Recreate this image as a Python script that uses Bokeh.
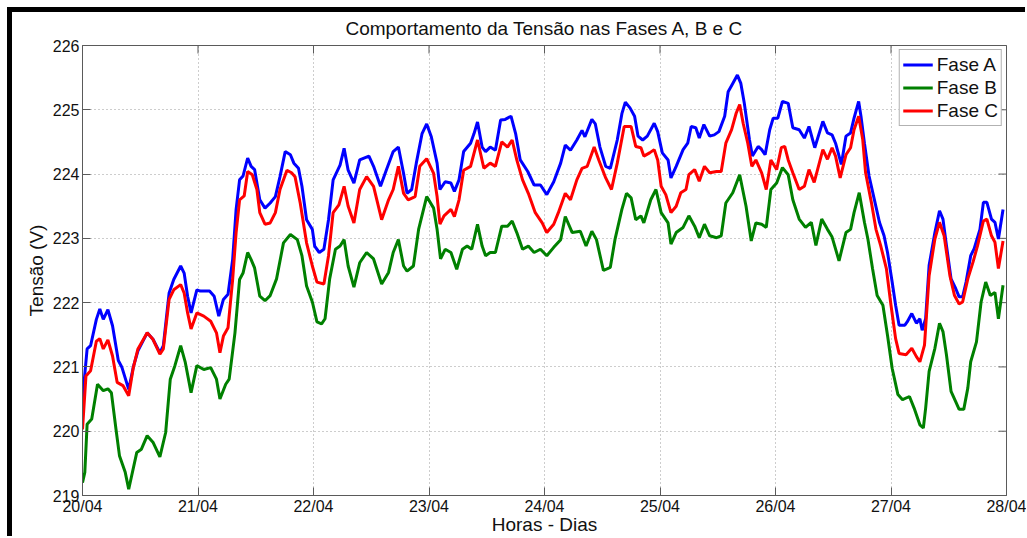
import math
from bokeh.plotting import figure
from bokeh.models import FixedTicker, Range1d, Legend, LegendItem
from bokeh.embed import file_html
from bokeh.resources import INLINE

# ---------------- data ----------------
dias = ["20/04", "21/04", "22/04", "23/04", "24/04", "25/04", "26/04", "27/04", "28/04"]
dias_pos = [0, 1, 2, 3, 4, 5, 6, 7, 8]
tensoes = [219, 220, 221, 222, 223, 224, 225, 226]

# (dia desde 20/04, tensão em V)
fase_a = [
    (0.00, 220.50), (0.04, 221.28), (0.07, 221.33), (0.12, 221.74), (0.15, 221.90), (0.18, 221.74),
    (0.22, 221.89), (0.26, 221.64), (0.31, 221.10), (0.34, 221.00), (0.40, 220.65), (0.44, 221.00),
    (0.48, 221.25), (0.56, 221.53), (0.61, 221.43), (0.67, 221.22), (0.70, 221.33), (0.75, 222.15),
    (0.79, 222.36), (0.85, 222.57), (0.88, 222.46), (0.91, 222.10), (0.94, 221.84), (0.99, 222.20),
    (1.02, 222.18), (1.10, 222.18), (1.14, 222.10), (1.18, 221.79), (1.22, 222.05), (1.26, 222.13),
    (1.30, 222.67), (1.33, 223.45), (1.36, 223.91), (1.39, 223.97), (1.43, 224.25), (1.46, 224.12),
    (1.49, 224.07), (1.535, 223.60), (1.58, 223.47), (1.625, 223.55), (1.67, 223.65), (1.71, 223.96),
    (1.755, 224.35), (1.80, 224.30), (1.83, 224.17), (1.87, 224.09), (1.90, 223.81), (1.94, 223.29),
    (1.99, 223.14), (2.01, 222.88), (2.05, 222.78), (2.09, 222.83), (2.13, 223.29), (2.17, 223.91),
    (2.23, 224.14), (2.265, 224.40), (2.30, 224.06), (2.35, 223.86), (2.40, 224.22), (2.48, 224.28),
    (2.52, 224.12), (2.58, 223.81), (2.63, 224.06), (2.69, 224.35), (2.735, 224.42), (2.78, 224.01),
    (2.81, 223.70), (2.85, 223.76), (2.89, 224.17), (2.94, 224.63), (2.98, 224.78), (3.02, 224.58),
    (3.07, 224.17), (3.095, 223.76), (3.14, 223.88), (3.19, 223.86), (3.22, 223.73), (3.26, 223.91),
    (3.30, 224.35), (3.36, 224.48), (3.39, 224.63), (3.42, 224.81), (3.46, 224.42), (3.49, 224.35),
    (3.53, 224.42), (3.575, 224.37), (3.62, 224.84), (3.66, 224.85), (3.71, 224.90), (3.75, 224.63),
    (3.79, 224.22), (3.855, 224.04), (3.91, 223.83), (3.965, 223.83), (4.02, 223.68), (4.08, 223.88),
    (4.14, 224.17), (4.18, 224.45), (4.225, 224.37), (4.28, 224.53), (4.325, 224.68), (4.35, 224.58),
    (4.41, 224.85), (4.44, 224.78), (4.48, 224.42), (4.53, 224.12), (4.57, 224.09), (4.63, 224.53),
    (4.67, 224.94), (4.70, 225.12), (4.74, 225.03), (4.78, 224.90), (4.81, 224.59), (4.85, 224.53),
    (4.89, 224.59), (4.95, 224.79), (4.98, 224.66), (5.02, 224.33), (5.07, 224.22), (5.095, 223.94),
    (5.14, 224.12), (5.20, 224.38), (5.24, 224.48), (5.27, 224.74), (5.31, 224.72), (5.34, 224.56),
    (5.38, 224.77), (5.43, 224.59), (5.47, 224.61), (5.51, 224.66), (5.56, 224.90), (5.59, 225.28),
    (5.63, 225.41), (5.67, 225.54), (5.70, 225.41), (5.73, 225.10), (5.775, 224.53), (5.80, 224.28),
    (5.85, 224.43), (5.88, 224.38), (5.91, 224.30), (5.95, 224.69), (5.98, 224.87), (6.02, 224.87),
    (6.06, 225.13), (6.11, 225.10), (6.15, 224.72), (6.205, 224.69), (6.25, 224.56), (6.29, 224.74),
    (6.34, 224.41), (6.41, 224.82), (6.45, 224.64), (6.49, 224.61), (6.52, 224.48), (6.57, 224.15),
    (6.61, 224.59), (6.65, 224.64), (6.68, 224.87), (6.72, 225.13), (6.74, 224.90), (6.77, 224.48),
    (6.81, 223.97), (6.855, 223.61), (6.90, 223.25), (6.94, 223.04), (6.97, 222.78), (7.01, 222.32),
    (7.04, 221.96), (7.07, 221.65), (7.12, 221.65), (7.14, 221.70), (7.18, 221.83), (7.22, 221.68),
    (7.25, 221.75), (7.27, 221.57), (7.30, 221.75), (7.33, 222.58), (7.38, 223.09), (7.42, 223.43),
    (7.45, 223.30), (7.48, 222.89), (7.52, 222.37), (7.56, 222.22), (7.59, 222.09), (7.62, 222.09),
    (7.65, 222.32), (7.69, 222.73), (7.72, 222.84), (7.77, 223.14), (7.80, 223.56), (7.83, 223.56),
    (7.87, 223.30), (7.90, 223.25), (7.93, 222.99), (7.97, 223.45),
]

fase_b = [
    (0.00, 219.20), (0.02, 219.36), (0.04, 220.11), (0.08, 220.19), (0.13, 220.73), (0.18, 220.63),
    (0.22, 220.66), (0.25, 220.60), (0.29, 220.03), (0.32, 219.62), (0.37, 219.36), (0.40, 219.10),
    (0.42, 219.26), (0.47, 219.67), (0.51, 219.72), (0.56, 219.93), (0.61, 219.83), (0.67, 219.60),
    (0.72, 219.98), (0.76, 220.81), (0.80, 221.02), (0.85, 221.33), (0.89, 221.07), (0.94, 220.60),
    (0.99, 221.02), (1.05, 220.96), (1.11, 220.99), (1.16, 220.81), (1.19, 220.50), (1.24, 220.73),
    (1.27, 220.81), (1.32, 221.53), (1.36, 222.36), (1.39, 222.46), (1.43, 222.78), (1.46, 222.67),
    (1.49, 222.54), (1.535, 222.10), (1.58, 222.03), (1.625, 222.11), (1.68, 222.37), (1.74, 222.93),
    (1.80, 223.06), (1.86, 222.98), (1.90, 222.73), (1.94, 222.26), (1.99, 222.01), (2.03, 221.70),
    (2.07, 221.67), (2.10, 221.75), (2.14, 222.37), (2.19, 222.83), (2.23, 222.88), (2.265, 222.98),
    (2.30, 222.57), (2.35, 222.24), (2.40, 222.62), (2.46, 222.78), (2.52, 222.68), (2.59, 222.29),
    (2.65, 222.47), (2.69, 222.78), (2.735, 222.98), (2.78, 222.57), (2.81, 222.49), (2.865, 222.57),
    (2.91, 223.14), (2.98, 223.65), (3.04, 223.47), (3.07, 223.14), (3.10, 222.68), (3.14, 222.83),
    (3.19, 222.78), (3.24, 222.52), (3.29, 222.83), (3.33, 222.88), (3.37, 222.83), (3.42, 223.22),
    (3.46, 222.88), (3.49, 222.73), (3.53, 222.78), (3.575, 222.78), (3.63, 223.19), (3.68, 223.19),
    (3.72, 223.27), (3.76, 223.09), (3.81, 222.83), (3.86, 222.88), (3.91, 222.78), (3.965, 222.83),
    (4.02, 222.73), (4.08, 222.86), (4.14, 222.98), (4.18, 223.34), (4.24, 223.09), (4.31, 223.11),
    (4.36, 222.88), (4.41, 223.11), (4.45, 222.98), (4.51, 222.50), (4.57, 222.55), (4.61, 222.98),
    (4.67, 223.45), (4.71, 223.70), (4.75, 223.63), (4.79, 223.29), (4.835, 223.35), (4.86, 223.24),
    (4.92, 223.60), (4.965, 223.76), (5.01, 223.40), (5.07, 223.24), (5.095, 222.91), (5.14, 223.09),
    (5.20, 223.17), (5.25, 223.35), (5.30, 223.19), (5.34, 223.01), (5.385, 223.22), (5.43, 223.04),
    (5.49, 223.01), (5.53, 223.04), (5.57, 223.55), (5.63, 223.71), (5.69, 223.99), (5.745, 223.50),
    (5.79, 222.96), (5.83, 223.24), (5.88, 223.22), (5.92, 223.17), (5.96, 223.76), (6.01, 223.86),
    (6.06, 224.10), (6.11, 223.99), (6.15, 223.60), (6.205, 223.30), (6.26, 223.17), (6.31, 223.25),
    (6.35, 222.89), (6.40, 223.30), (6.45, 223.14), (6.49, 223.02), (6.55, 222.65), (6.61, 223.09),
    (6.65, 223.14), (6.68, 223.40), (6.725, 223.71), (6.77, 223.25), (6.80, 222.99), (6.84, 222.53),
    (6.88, 222.11), (6.93, 221.96), (6.97, 221.49), (7.01, 220.98), (7.06, 220.57), (7.10, 220.49),
    (7.16, 220.54), (7.20, 220.36), (7.25, 220.10), (7.28, 220.05), (7.30, 220.36), (7.33, 220.93),
    (7.38, 221.29), (7.42, 221.68), (7.45, 221.55), (7.48, 221.19), (7.52, 220.62), (7.56, 220.46),
    (7.59, 220.34), (7.63, 220.34), (7.665, 220.67), (7.69, 221.08), (7.74, 221.39), (7.78, 222.01),
    (7.82, 222.32), (7.86, 222.11), (7.90, 222.16), (7.93, 221.75), (7.97, 222.27),
]

fase_c = [
    (0.00, 220.03), (0.03, 220.86), (0.07, 220.94), (0.12, 221.40), (0.15, 221.44), (0.18, 221.28),
    (0.22, 221.42), (0.26, 221.17), (0.30, 220.76), (0.35, 220.71), (0.40, 220.55), (0.44, 220.99),
    (0.48, 221.28), (0.56, 221.53), (0.61, 221.43), (0.67, 221.20), (0.70, 221.28), (0.75, 222.05),
    (0.79, 222.20), (0.85, 222.28), (0.88, 222.15), (0.91, 221.84), (0.94, 221.59), (0.99, 221.84),
    (1.05, 221.79), (1.11, 221.71), (1.16, 221.53), (1.19, 221.22), (1.22, 221.48), (1.26, 221.61),
    (1.30, 222.36), (1.33, 223.09), (1.36, 223.60), (1.40, 223.66), (1.43, 224.04), (1.47, 223.99),
    (1.51, 223.76), (1.535, 223.40), (1.58, 223.22), (1.625, 223.24), (1.67, 223.40), (1.71, 223.76),
    (1.77, 224.06), (1.81, 224.02), (1.84, 223.96), (1.885, 223.55), (1.94, 222.93), (1.99, 222.57),
    (2.03, 222.32), (2.09, 222.29), (2.13, 222.73), (2.17, 223.40), (2.22, 223.52), (2.265, 223.81),
    (2.30, 223.50), (2.35, 223.24), (2.40, 223.76), (2.46, 223.96), (2.52, 223.81), (2.59, 223.29),
    (2.65, 223.60), (2.69, 223.76), (2.735, 224.12), (2.78, 223.70), (2.82, 223.60), (2.88, 223.65),
    (2.92, 224.12), (2.98, 224.24), (3.04, 224.01), (3.07, 223.65), (3.095, 223.22), (3.13, 223.35),
    (3.16, 223.40), (3.19, 223.45), (3.22, 223.34), (3.26, 223.60), (3.30, 224.06), (3.36, 224.12),
    (3.42, 224.53), (3.475, 224.09), (3.53, 224.17), (3.575, 224.12), (3.63, 224.50), (3.68, 224.42),
    (3.72, 224.53), (3.76, 224.22), (3.81, 223.91), (3.86, 223.70), (3.92, 223.40), (3.98, 223.24),
    (4.02, 223.09), (4.08, 223.22), (4.12, 223.40), (4.18, 223.70), (4.225, 223.60), (4.28, 223.91),
    (4.325, 224.09), (4.37, 224.12), (4.43, 224.42), (4.47, 224.22), (4.53, 223.94), (4.58, 223.76),
    (4.63, 224.17), (4.69, 224.74), (4.75, 224.74), (4.79, 224.43), (4.835, 224.41), (4.86, 224.28),
    (4.91, 224.33), (4.95, 224.38), (4.98, 224.22), (5.01, 223.81), (5.05, 223.68), (5.095, 223.40),
    (5.14, 223.50), (5.18, 223.71), (5.225, 223.76), (5.25, 223.99), (5.30, 224.07), (5.34, 223.89),
    (5.385, 224.12), (5.43, 224.02), (5.49, 224.04), (5.53, 224.04), (5.57, 224.48), (5.62, 224.69),
    (5.66, 224.95), (5.69, 225.08), (5.72, 224.79), (5.76, 224.48), (5.795, 224.12), (5.83, 224.22),
    (5.88, 224.02), (5.92, 223.76), (5.96, 224.22), (6.01, 224.07), (6.05, 224.41), (6.08, 224.43),
    (6.11, 224.22), (6.15, 224.02), (6.205, 223.76), (6.25, 223.81), (6.29, 224.07), (6.335, 223.87),
    (6.41, 224.38), (6.45, 224.23), (6.49, 224.41), (6.52, 224.28), (6.56, 223.94), (6.61, 224.30),
    (6.65, 224.41), (6.68, 224.69), (6.72, 224.90), (6.755, 224.54), (6.78, 224.02), (6.83, 223.56),
    (6.87, 223.14), (6.91, 222.89), (6.96, 222.53), (7.00, 221.96), (7.04, 221.44), (7.07, 221.21),
    (7.13, 221.19), (7.18, 221.29), (7.22, 221.16), (7.25, 221.08), (7.29, 221.34), (7.33, 222.42),
    (7.38, 222.99), (7.42, 223.25), (7.46, 223.04), (7.51, 222.42), (7.55, 222.11), (7.59, 221.98),
    (7.62, 222.01), (7.665, 222.37), (7.71, 222.63), (7.75, 222.89), (7.80, 223.27), (7.83, 223.30),
    (7.87, 223.04), (7.90, 222.94), (7.93, 222.53), (7.97, 222.96),
]

series = [("Fase A", fase_a, "#0000ff"), ("Fase B", fase_b, "#008000"), ("Fase C", fase_c, "#ff0000")]

FONT = "Liberation Sans"
AXIS_COLOR = "#5a5a5a"

p = figure(width=1014, height=525, x_range=Range1d(0, 8), y_range=Range1d(219, 226),
           output_backend="svg", toolbar_location=None,
           min_border_left=70, min_border_right=20, min_border_top=33, min_border_bottom=39,
           title="Comportamento da Tensão nas Fases A, B e C")
# black frame of the original screenshot (left and top edges), drawn as an offset shadow
p.styles = {"margin-left": "12px", "margin-top": "12px",
            "box-shadow": "-3px -3px 0 2px black"}

p.title.align = "center"
p.title.vertical_align = "top"
p.title.text_font = FONT
p.title.text_font_size = "19px"
p.title.text_font_style = "normal"
p.title.text_color = "#111111"
p.title.standoff = 10

p.background_fill_color = "white"
p.border_fill_color = "white"
p.outline_line_color = AXIS_COLOR
p.outline_line_width = 1

xt = FixedTicker(ticks=dias_pos)
yt = FixedTicker(ticks=tensoes)
p.xaxis.ticker = xt
p.yaxis.ticker = yt
p.xaxis.major_label_overrides = {pos: lab for pos, lab in zip(dias_pos, dias)}

for ax in (p.xaxis[0], p.yaxis[0]):
    ax.major_label_text_font = FONT
    ax.major_label_text_font_size = "16px"
    ax.major_label_text_color = "#111111"
    ax.axis_label_text_font = FONT
    ax.axis_label_text_font_size = "19px"
    ax.axis_label_text_font_style = "normal"
    ax.axis_label_text_color = "#111111"
    ax.axis_line_color = AXIS_COLOR
    ax.major_tick_line_color = AXIS_COLOR
    ax.major_tick_in = 8
    ax.major_tick_out = 0
    ax.minor_tick_line_color = None

p.xaxis.axis_label = "Horas - Dias"
p.yaxis.axis_label = "Tensão (V)"
p.xaxis.major_label_standoff = 2
p.xaxis.axis_label_standoff = -4
p.yaxis.major_label_standoff = 3
p.yaxis.axis_label_standoff = 3

p.xgrid.ticker = xt
p.ygrid.ticker = yt
for g in (p.xgrid[0], p.ygrid[0]):
    g.grid_line_color = "#9a9a9a"
    g.grid_line_dash = "1 3"
    g.grid_line_width = 1

# mirrored inward ticks on the top and right edges (half of each dash is clipped by the frame)
p.scatter(x=dias_pos, y=[tensoes[-1]] * len(dias_pos), marker="dash", size=16,
          angle=math.pi / 2, line_color=AXIS_COLOR, line_width=1)
p.scatter(x=[dias_pos[-1]] * len(tensoes), y=tensoes, marker="dash", size=16,
          line_color=AXIS_COLOR, line_width=1)

items = []
for nome, dados, cor in series:
    t = [d[0] for d in dados]
    v = [d[1] for d in dados]
    r = p.line(t, v, line_color=cor, line_width=3)
    items.append(LegendItem(label=nome, renderers=[r]))

legend = Legend(items=items, location="top_right", margin=4, padding=3, spacing=0,
                glyph_width=30, glyph_height=23, label_height=23, label_standoff=4,
                label_text_font=FONT, label_text_font_size="19px", label_text_color="#111111",
                border_line_color="#666666", border_line_width=1,
                background_fill_color="white", background_fill_alpha=1)
p.add_layout(legend)

open("out.html", "w").write(file_html(p, INLINE))
